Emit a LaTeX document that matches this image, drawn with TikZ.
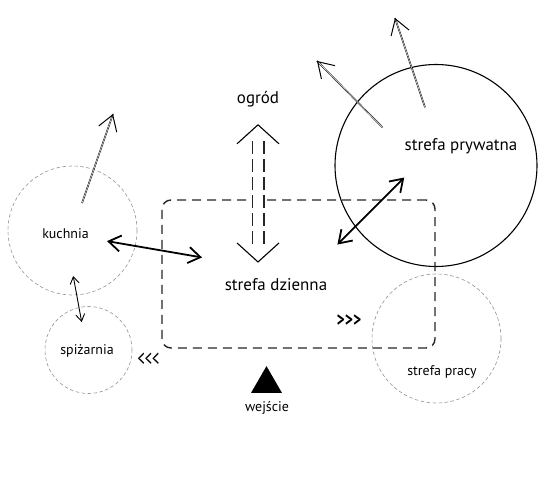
\documentclass[tikz,border=0pt]{standalone}
\usepackage{fontspec}
\setmainfont{PT Sans}
\usetikzlibrary{arrows.meta, shapes.geometric}

\begin{document}
\begin{tikzpicture}[
    x=1bp, y=-1bp,
    % Define styles for zones, labels and links
    zone/.style={circle, draw=gray!85, dash pattern=on 3.5bp off 2.5bp, line width=0.6bp, inner sep=0pt},
    mainzone/.style={circle, draw=black, line width=1.1bp, inner sep=0pt},
    daybox/.style={rectangle, draw=black!85, line width=1.4bp, dash pattern=on 9bp off 6bp, rounded corners=9bp, inner sep=0pt},
    biglabel/.style={font=\fontsize{17}{20}\selectfont, inner sep=1bp},
    smalllabel/.style={font=\fontsize{14}{16}\selectfont, inner sep=1bp},
    chevrons/.style={inner sep=0pt, transform shape},
    link/.style={{Straight Barb[length=12bp,width=16bp]}-{Straight Barb[length=12bp,width=16bp]}, line width=1.8bp},
    thinlink/.style={{Straight Barb[length=7bp,width=9bp]}-{Straight Barb[length=7bp,width=9bp]}, line width=0.9bp},
    view/.style={draw=black, line width=0.5bp, double=white, double distance=0.5bp},
    viewtip/.style={-{Straight Barb[length=15bp,width=19bp,line width=1bp]}, dash pattern=on 0bp off 2000bp},
    gardenshaft/.style={draw=black!85, line width=1.1bp, double=white, double distance=10.8bp, dash pattern=on 13bp off 5bp},
    gardentip/.style={{Straight Barb[length=19bp,width=42bp,line width=1.1bp]}-{Straight Barb[length=19bp,width=42bp,line width=1.1bp]}, dash pattern=on 0bp off 2000bp}
]
\useasboundingbox (0,0) rectangle (550,500);

% --- Zones ---
\node[zone, minimum size=129bp] (kuchnia) at (72.5,230.5) {};
\node[zone, minimum size=87bp] (spizarnia) at (88.5,350) {};
\node[zone, minimum size=129bp] (pracy) at (436.5,338.5) {};
\node[mainzone, minimum size=202bp] (prywatna) at (436,165.5) {};
\node[daybox, minimum width=273bp, minimum height=148bp] (dzienna) at (298.5,274) {};

% --- Labels ---
\node[biglabel] (ogrod) at (258,99) {ogród};
\node[biglabel] (dziennatxt) at (276,285) {strefa dzienna};
\node[biglabel] (prywatnatxt) at (461,146) {strefa prywatna};
\node[smalllabel] (kuchniatxt) at (65.5,234) {kuchnia};
\node[smalllabel] (spizarniatxt) at (87,351) {spiżarnia};
\node[smalllabel] (pracytxt) at (442,372) {strefa pracy};

% Entrance
\node[regular polygon, regular polygon sides=3, fill=black, inner sep=0pt, minimum size=35.8bp] (entry) at (266.5,384) {};
\node[smalllabel] (wejscie) at (267,408) {wejście};

% Direction marks
\node[chevrons, xscale=0.78, font=\fontsize{20}{22}\selectfont\bfseries] (inmark) at (349,320.5) {{>}{>}{>}};
\node[chevrons, xscale=0.6, font=\fontsize{24}{26}\selectfont] (outmark) at (148.5,360) {{<}{<}{<}};

% View points
\coordinate (kuchniaview) at (113,114);
\coordinate (prywatnaview1) at (317,61);
\coordinate (prywatnaview2) at (395,18);

% --- Links ---
\draw[link, shorten <=42.1bp, shorten >=97.9bp] (kuchniatxt.center) -- (dzienna.center);
\draw[thinlink, shorten <=42.7bp, shorten >=29.5bp] (kuchniatxt.center) -- (spizarniatxt.center);
\draw[link, shorten <=147.1bp, shorten >=131.5bp] (dzienna.229) -- (prywatna.53);

% Garden
\draw[gardenshaft, shorten <=33bp, shorten >=32bp] (ogrod.south) -- (ogrod.south |- dziennatxt.north);
\draw[gardentip, shorten <=16bp, shorten >=15bp] (ogrod.south) -- (ogrod.south |- dziennatxt.north);

% Views
\draw[view, shorten <=29.1bp] (kuchnia.center) -- (kuchniaview);
\draw[viewtip, shorten <=29.1bp] (kuchnia.center) -- (kuchniaview);
\draw[view, shorten <=-36.3bp] (prywatna.141) -- (prywatnaview1);
\draw[viewtip, shorten <=-36.3bp] (prywatna.141) -- (prywatnaview1);
\draw[view, shorten <=-42.6bp] (prywatna.104) -- (prywatnaview2);
\draw[viewtip, shorten <=-42.6bp] (prywatna.104) -- (prywatnaview2);

\end{tikzpicture}
\end{document}
